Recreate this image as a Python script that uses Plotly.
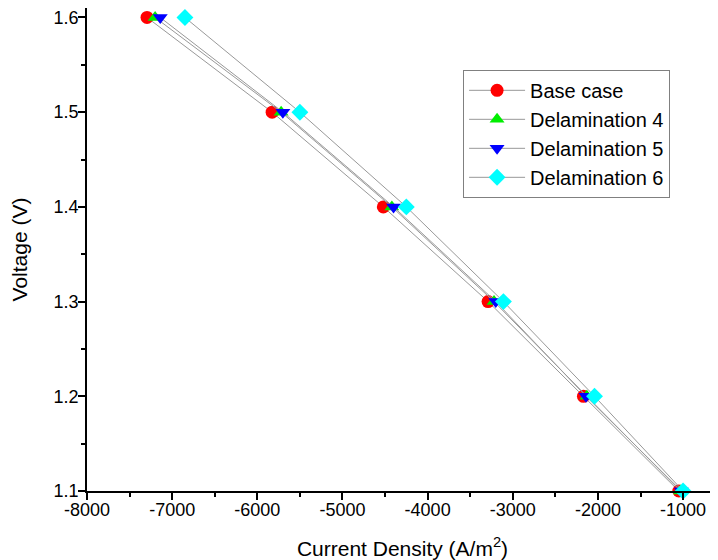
import plotly.graph_objects as go

voltage = [1.6, 1.5, 1.4, 1.3, 1.2, 1.1]
base_case = [-7295, -5826, -4520, -3290, -2170, -1050]
delam4 = [-7200, -5720, -4420, -3220, -2130, -1030]
delam5 = [-7140, -5700, -4400, -3200, -2140, -1020]
delam6 = [-6850, -5500, -4250, -3110, -2040, -1000]

x_tickvals = [-8000, -7000, -6000, -5000, -4000, -3000, -2000, -1000]
x_ticktext = ["-8000", "-7000", "-6000", "-5000", "-4000", "-3000", "-2000", "-1000"]
y_tickvals = [1.1, 1.2, 1.3, 1.4, 1.5, 1.6]
y_ticktext = ["1.1", "1.2", "1.3", "1.4", "1.5", "1.6"]

series = [
    ("Base case", base_case, "circle", "#ff0000"),
    ("Delamination 4", delam4, "triangle-up", "#00ee00"),
    ("Delamination 5", delam5, "triangle-down", "#0000ff"),
    ("Delamination 6", delam6, "diamond", "#00ffff"),
]

fig = go.Figure()
for name, xs, sym, col in series:
    fig.add_trace(go.Scatter(
        x=xs, y=voltage, name=name, mode="lines+markers",
        line=dict(color="#999999", width=1),
        marker=dict(symbol=sym, color=col, size=13, line=dict(width=0)),
        cliponaxis=False,
    ))

# page body has an 8px default margin; compensate in the figure geometry
fig.update_layout(
    width=710, height=552,
    margin=dict(l=79, r=0, t=0, b=69),
    paper_bgcolor="white", plot_bgcolor="white",
    font=dict(family="Arial, Liberation Sans, sans-serif", color="black", size=18),
    legend=dict(
        x=0.596, y=0.872, xanchor="left", yanchor="top",
        bgcolor="white", bordercolor="#808080", borderwidth=1,
        font=dict(size=20), tracegroupgap=0, itemwidth=56,
    ),
    showlegend=True,
)
fig.update_xaxes(
    range=[-8000, -590], showgrid=False, zeroline=False, automargin=False,
    showline=True, linecolor="black", linewidth=1.5,
    ticks="outside", ticklen=7, tickwidth=1.5, tickcolor="black",
    tickvals=x_tickvals, ticktext=x_ticktext, ticklabelstandoff=-5,
    ticklabeloverflow="allow",
    minor=dict(ticks="outside", ticklen=4, tickwidth=1.5, tickcolor="black", dtick=500, tick0=-8000),
    title=dict(text="Current Density (A/m<sup>2</sup>)", font=dict(size=21), standoff=22),
)
fig.update_yaxes(
    range=[1.1, 1.61], showgrid=False, zeroline=False, automargin=False,
    showline=True, linecolor="black", linewidth=1.5,
    ticks="outside", ticklen=7, tickwidth=1.5, tickcolor="black",
    tickvals=y_tickvals, ticktext=y_ticktext, ticklabelstandoff=-4,
    ticklabeloverflow="allow",
    minor=dict(ticks="outside", ticklen=4, tickwidth=1.5, tickcolor="black", dtick=0.05, tick0=1.1),
    title=dict(text="Voltage (V)", font=dict(size=21), standoff=20),
)
fig.write_html("out.html")
